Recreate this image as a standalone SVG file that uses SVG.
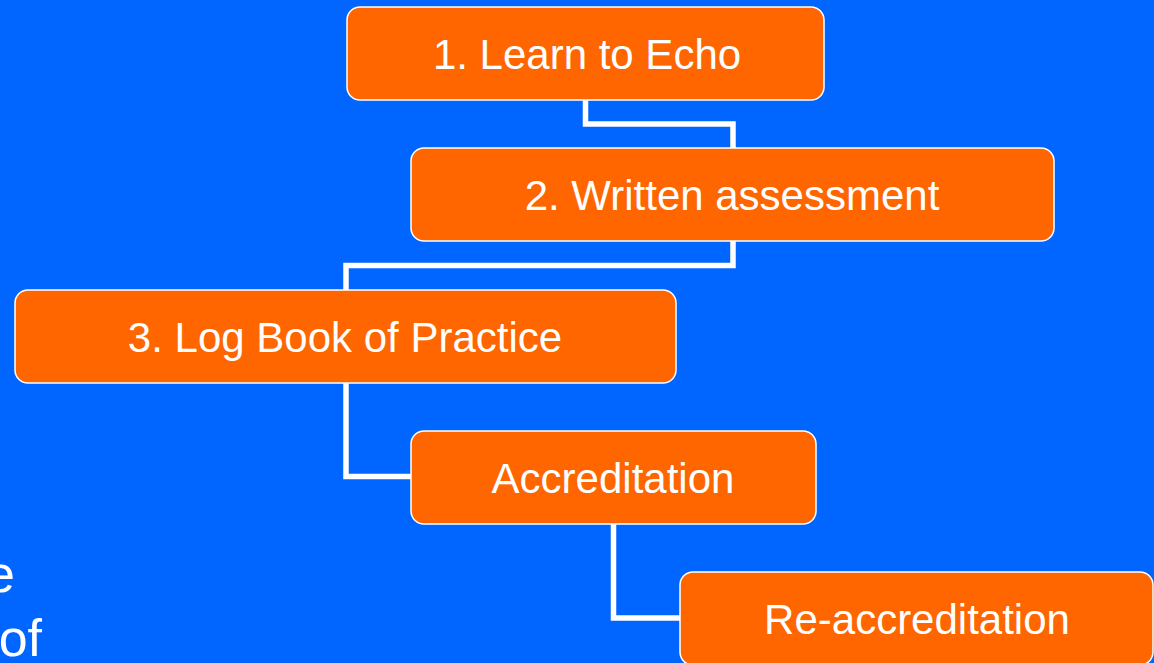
<svg xmlns="http://www.w3.org/2000/svg" width="1154" height="663" viewBox="0 0 1154 663">
<style>
.bg{fill:#0066FF}
.box{fill:#FF6600;stroke:#FFFFFF;stroke-width:1.5}
.lbl{fill:#FFFFFF;font-family:"Liberation Sans",Arial,sans-serif;font-size:42px;text-anchor:middle}
.side{fill:#FFFFFF;font-family:"Liberation Sans",Arial,sans-serif;font-size:52px;text-anchor:end}
.conn{fill:none;stroke:#FFFFFF;stroke-width:5.5;stroke-linejoin:miter}
</style>
<rect class="bg" x="0" y="0" width="1154" height="663"/>
<text class="side" x="15" y="592">e</text>
<text class="side" x="42" y="656">of</text>
<g id="connectors">
<path class="conn" d="M585.5,100 V124 H733 V148"/>
<path class="conn" d="M733,241 V265.5 H346 V290"/>
<path class="conn" d="M346,383 V476.5 H411"/>
<path class="conn" d="M613.5,524 V618 H680"/>
</g>
<g id="n1">
<rect class="box" x="347" y="7" width="477" height="93" rx="13"/>
<text class="lbl" x="587" y="69">1. Learn to Echo</text>
</g>
<g id="n2">
<rect class="box" x="411" y="148" width="643" height="93" rx="13"/>
<text class="lbl" x="732" y="210">2. Written assessment</text>
</g>
<g id="n3">
<rect class="box" x="15" y="290" width="661" height="93" rx="13"/>
<text class="lbl" x="345" y="352">3. Log Book of Practice</text>
</g>
<g id="n4">
<rect class="box" x="411" y="431" width="405" height="93" rx="13"/>
<text class="lbl" x="613" y="493">Accreditation</text>
</g>
<g id="n5">
<rect class="box" x="680" y="572" width="473" height="93" rx="13"/>
<text class="lbl" x="917" y="634">Re-accreditation</text>
</g>
</svg>
